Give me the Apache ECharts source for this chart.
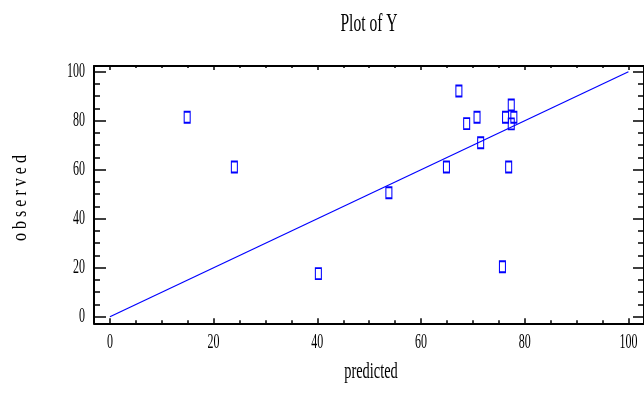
<!DOCTYPE html>
<html>
<head>
<meta charset="utf-8">
<script src="https://cdn.jsdelivr.net/npm/echarts@6/dist/echarts.min.js"></script>
<style>
  html, body { margin: 0; padding: 0; background: #fff; }
  #chart { width: 644px; height: 394px; }
</style>
</head>
<body>
<div id="chart"></div>
<script>
// Predicted vs observed values
const predicted = [14.9, 24.0, 40.2, 53.8, 64.9, 67.3, 68.8, 70.8, 71.5, 75.7, 76.3, 76.9, 77.4, 77.9, 77.4];
const observed  = [81.4, 61.1, 17.6, 50.6, 61.1, 92.1, 78.8, 81.4, 71.0, 20.4, 81.4, 61.1, 86.4, 81.4, 78.7];

// Reference line y = x
const refLineX = [0, 100];
const refLineY = [0, 100];

// Axis tick values
const xTicks = [0, 20, 40, 60, 80, 100];
const yTicks = [0, 20, 40, 60, 80, 100];
const xMinorTicks = [5, 10, 15, 25, 30, 35, 45, 50, 55, 65, 70, 75, 85, 90, 95];
const yMinorTicks = [5, 10, 15, 25, 30, 35, 45, 50, 55, 65, 70, 75, 85, 90, 95];

const titleText = 'Plot of Y';
const xName = 'predicted';
const yName = 'o b s e r v e d';

const BLUE = '#0000ff';
const FONT = '"Liberation Serif", "Times New Roman", serif';
const SQUEEZE = 0.6;

const X_MIN = -3.07, X_MAX = 103.0;
const Y_MIN = -2.69, Y_MAX = 102.33;

function xAxisDef(position, ticks, len, showLine) {
  return {
    type: 'value', position: position, min: X_MIN, max: X_MAX,
    axisLine: { show: showLine, onZero: false, lineStyle: { color: '#000', width: 2 } },
    axisTick: { show: true, inside: true, length: len, customValues: ticks,
                lineStyle: { color: '#000', width: 1.5 } },
    axisLabel: { show: false },
    splitLine: { show: false }
  };
}
function yAxisDef(position, ticks, len, showLine) {
  return {
    type: 'value', position: position, min: Y_MIN, max: Y_MAX,
    axisLine: { show: showLine, onZero: false, lineStyle: { color: '#000', width: 2 } },
    axisTick: { show: true, inside: true, length: len, customValues: ticks,
                lineStyle: { color: '#000', width: 1.5 } },
    axisLabel: { show: false },
    splitLine: { show: false }
  };
}

const chart = echarts.init(document.getElementById('chart'), null, { renderer: 'canvas' });

chart.setOption({
  animation: false,
  backgroundColor: '#fff',
  grid: { left: 94, top: 66, right: -2, bottom: 70.7, containLabel: false },
  xAxis: [
    xAxisDef('bottom', xTicks, 5, true),
    xAxisDef('bottom', xMinorTicks, 3, false),
    xAxisDef('top', xTicks, 4, true),
    xAxisDef('top', xMinorTicks, 2, false)
  ],
  yAxis: [
    yAxisDef('left', yTicks, 12, true),
    yAxisDef('left', yMinorTicks, 6, false),
    yAxisDef('right', yTicks, 11, true),
    yAxisDef('right', yMinorTicks, 6, false)
  ],
  series: [
    {
      type: 'line',
      xAxisIndex: 0, yAxisIndex: 0,
      data: refLineX.map((x, i) => [x, refLineY[i]]),
      symbol: 'none',
      lineStyle: { color: BLUE, width: 1.2 },
      silent: true
    },
    {
      type: 'scatter',
      xAxisIndex: 0, yAxisIndex: 0,
      data: predicted.map((x, i) => [x, observed[i]]),
      symbol: 'rect',
      symbolSize: [6, 11],
      itemStyle: { color: 'transparent', borderColor: BLUE, borderWidth: 1.4, opacity: 1 },
      silent: true
    }
  ]
});

// Condensed serif text: tick labels, title and axis names
const graphics = [];
function txt(text, x, y, size, align, sx, rot) {
  graphics.push({
    type: 'text', x: x, y: y, scaleX: sx, rotation: rot || 0, silent: true,
    style: { text: text, font: size + 'px ' + FONT, fill: '#000',
             align: align, verticalAlign: 'middle' }
  });
}
xTicks.forEach(v => {
  const px = chart.convertToPixel({ xAxisIndex: 0 }, v);
  txt(String(v), px, 343, 20, 'center', SQUEEZE);
});
yTicks.forEach(v => {
  const py = chart.convertToPixel({ yAxisIndex: 0 }, v);
  txt(String(v), 85, py, 20, 'right', SQUEEZE);
});
txt(titleText, 369, 24, 26, 'center', SQUEEZE);
txt(xName, 371, 372, 24, 'center', SQUEEZE);
txt(yName, 21, 198, 20, 'center', 0.8, Math.PI / 2);

chart.setOption({ graphic: graphics });
</script>
</body>
</html>
